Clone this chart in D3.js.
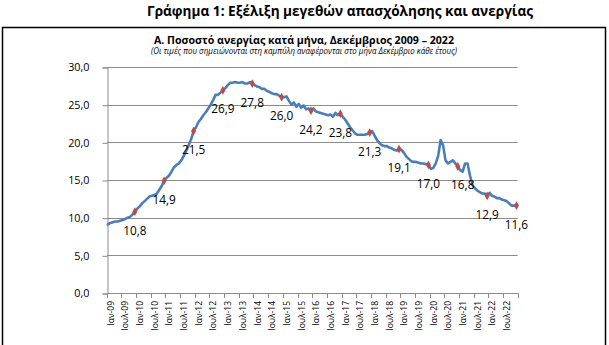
<!DOCTYPE html>
<html>
<head>
<meta charset="utf-8">
<script src="https://cdn.jsdelivr.net/npm/d3@7"></script>
<style>
  html, body { margin: 0; padding: 0; background: #ffffff; }
  svg { display: block; }
  text { font-family: "Open Sans", "Noto Sans", "DejaVu Sans", sans-serif; fill: #000; }
</style>
</head>
<body>
<script>
// ---- DATA ----
const years = [2009, 2010, 2011, 2012, 2013, 2014, 2015, 2016, 2017, 2018, 2019, 2020, 2021, 2022];
const monthNames = ["Ιαν","Φεβ","Μαρ","Απρ","Μαϊ","Ιουν","Ιουλ","Αυγ","Σεπ","Οκτ","Νοε","Δεκ"];
// Monthly unemployment rate (%), Jan 2009 - Dec 2022
const unemployment = [
  9.1, 9.3, 9.4, 9.5, 9.5, 9.6, 9.7, 9.8, 10.0, 10.1, 10.4, 10.8,        // 2009
  11.2, 11.5, 11.9, 12.2, 12.5, 12.8, 12.9, 13.0, 13.2, 13.7, 14.2, 14.9, // 2010
  15.3, 15.6, 16.1, 16.7, 17.0, 17.2, 17.6, 18.2, 18.9, 19.6, 20.4, 21.5, // 2011
  22.0, 22.7, 23.1, 23.6, 24.0, 24.5, 25.0, 25.6, 26.3, 26.3, 26.6, 26.9, // 2012
  27.2, 27.6, 27.9, 27.9, 28.0, 27.9, 27.9, 28.0, 27.8, 27.8, 28.0, 27.8, // 2013
  27.6, 27.4, 27.3, 27.1, 27.1, 26.8, 26.7, 26.5, 26.4, 26.4, 26.2, 26.0, // 2014
  26.0, 26.1, 25.5, 25.0, 25.3, 24.7, 25.1, 24.6, 24.9, 24.4, 24.5, 24.2, // 2015
  24.5, 24.1, 24.0, 23.9, 23.8, 23.7, 23.6, 23.7, 23.4, 23.9, 23.6, 23.8, // 2016
  23.4, 23.0, 22.5, 22.0, 21.6, 21.2, 21.0, 21.0, 21.0, 21.0, 21.1, 21.3, // 2017
  21.5, 20.9, 20.3, 19.9, 19.6, 19.5, 19.5, 19.3, 19.2, 19.0, 18.9, 19.1, // 2018
  19.0, 18.6, 18.1, 17.8, 17.5, 17.4, 17.4, 17.3, 17.2, 17.2, 17.1, 17.0, // 2019
  16.5, 16.6, 17.2, 18.2, 20.3, 19.6, 17.6, 17.2, 17.4, 17.6, 17.2, 16.8, // 2020
  16.3, 16.1, 17.2, 17.2, 15.6, 14.3, 13.9, 13.6, 13.4, 13.2, 13.2, 12.9, // 2021
  13.3, 12.9, 12.8, 12.6, 12.6, 12.4, 12.3, 12.2, 11.9, 11.6, 11.6, 11.6  // 2022
];
// December values shown as labels
const decemberValues = [10.8, 14.9, 21.5, 26.9, 27.8, 26.0, 24.2, 23.8, 21.3, 19.1, 17.0, 16.8, 12.9, 11.6];
const tickLabels = [
  "Ιαν-09","Ιουλ-09","Ιαν-10","Ιουλ-10","Ιαν-11","Ιουλ-11","Ιαν-12","Ιουλ-12",
  "Ιαν-13","Ιουλ-13","Ιαν-14","Ιουλ-14","Ιαν-15","Ιουλ-15","Ιαν-16","Ιουλ-16",
  "Ιαν-17","Ιουλ-17","Ιαν-18","Ιουλ-18","Ιαν-19","Ιουλ-19","Ιαν-20","Ιουλ-20",
  "Ιαν-21","Ιουλ-21","Ιαν-22","Ιουλ-22"
];
const yTicks = [0, 5, 10, 15, 20, 25, 30];

const titleText = "Γράφημα 1: Εξέλιξη μεγεθών απασχόλησης και ανεργίας";
const subtitleText = "Α. Ποσοστό ανεργίας κατά μήνα, Δεκέμβριος 2009 – 2022";
const noteText = "(Οι τιμές που σημειώνονται στη καμπύλη αναφέρονται στο μήνα Δεκέμβριο κάθε έτους)";

// ---- BUILD ----
const W = 609, H = 345;
const months = [];
years.forEach(y => monthNames.forEach((m, i) => months.push(m + "-" + String(y).slice(2))));
const points = months.map((m, i) => ({ m, v: unemployment[i], dec: i % 12 === 11 }));

const svg = d3.select("body").append("svg").attr("width", W).attr("height", H);

// Title
svg.append("text").attr("x", 340).attr("y", 10).attr("text-anchor", "middle")
  .attr("dominant-baseline", "central").attr("font-size", 13.6).attr("font-weight", "bold")
  .text(titleText);

// Box
svg.append("rect").attr("x", 2.5).attr("y", 27.5).attr("width", 603).attr("height", 330)
  .attr("fill", "none").attr("stroke", "#000").attr("stroke-width", 1.5);

svg.append("text").attr("x", 304).attr("y", 39.5).attr("text-anchor", "middle")
  .attr("dominant-baseline", "central").attr("font-size", 10.5).attr("font-weight", "bold")
  .attr("textLength", 300).attr("lengthAdjust", "spacingAndGlyphs")
  .text(subtitleText);
svg.append("text").attr("x", 304).attr("y", 51).attr("text-anchor", "middle")
  .attr("dominant-baseline", "central").attr("font-size", 8.8).attr("font-style", "italic")
  .attr("textLength", 306).attr("lengthAdjust", "spacingAndGlyphs")
  .attr("fill", "#222").text(noteText);

// Scales
const x = d3.scaleBand().domain(months).range([106.7, 517.7]).paddingInner(0).paddingOuter(0);
const y = d3.scaleLinear().domain([0, 30]).range([293, 67]);
const cx = m => x(m) + x.bandwidth() / 2;

// Gridlines
svg.append("g").selectAll("line").data(yTicks.filter(d => d > 0)).join("line")
  .attr("x1", 107).attr("x2", 517.7)
  .attr("y1", d => Math.round(y(d)) + 0.5).attr("y2", d => Math.round(y(d)) + 0.5)
  .attr("stroke", "#8c8c8c").attr("stroke-width", 1);

// Y axis
const yAxis = svg.append("g").attr("transform", "translate(107.5,0.5)")
  .call(d3.axisLeft(y).tickValues(yTicks).tickSize(5).tickPadding(13)
    .tickFormat(d => d.toFixed(1).replace(".", ",")));
yAxis.select(".domain").attr("stroke", "#8c8c8c");
yAxis.selectAll(".tick line").attr("stroke", "#8c8c8c");
yAxis.selectAll(".tick text").attr("font-size", 10.8)
  .attr("font-family", "'Open Sans', 'Noto Sans', sans-serif").attr("fill", "#000");

// X axis
const tickIdx = d3.range(0, months.length, 6);
const tickXs = tickIdx.map(i => x(months[i])).concat([x.range()[1]]);
const xg = svg.append("g");
xg.append("line").attr("x1", 106.7).attr("x2", 517.7).attr("y1", 293.5).attr("y2", 293.5)
  .attr("stroke", "#8c8c8c");
xg.selectAll("line.t").data(tickXs).join("line").attr("class", "t")
  .attr("x1", d => Math.round(d) + 0.5).attr("x2", d => Math.round(d) + 0.5)
  .attr("y1", 293).attr("y2", 298).attr("stroke", "#8c8c8c");
xg.selectAll("text").data(tickIdx).join("text")
  .attr("transform", (d, k) => `translate(${cx(months[d]) + 2.3},301) rotate(-90)`)
  .attr("text-anchor", "end").attr("dominant-baseline", "central")
  .attr("font-size", 8.5).text((d, k) => tickLabels[k]);

// Line
const line = d3.line().x(d => cx(d.m)).y(d => y(d.v));
svg.append("path").datum(points).attr("d", line)
  .attr("fill", "none").attr("stroke", "#4a7ebb").attr("stroke-width", 2.6)
  .attr("stroke-linejoin", "round").attr("stroke-linecap", "round");

// December markers
const decPts = points.filter(d => d.dec).map((d, k) => ({ ...d, label: decemberValues[k] }));
svg.append("g").selectAll("path").data(decPts).join("path")
  .attr("d", d3.symbol().type(d3.symbolDiamond).size(22))
  .attr("transform", d => `translate(${cx(d.m)},${y(d.label)})`)
  .attr("fill", "#be4b48");

// Labels
svg.append("g").selectAll("text").data(decPts).join("text")
  .attr("x", d => cx(d.m) + (d.label === 16.8 ? 5 : 0))
  .attr("y", d => y(d.label) + 18)
  .attr("text-anchor", "middle").attr("dominant-baseline", "central")
  .attr("font-size", 11.8)
  .text(d => d.label.toFixed(1).replace(".", ","));
</script>
</body>
</html>
